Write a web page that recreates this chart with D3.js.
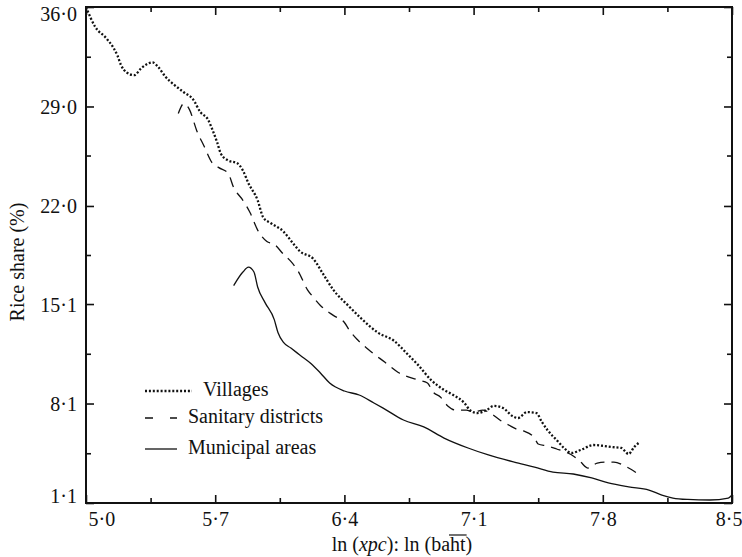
<!DOCTYPE html>
<html>
<head>
<meta charset="utf-8">
<script src="https://cdn.jsdelivr.net/npm/d3@7"></script>
<style>
  body { margin: 0; background: #fff; }
  svg { display: block; }
  text { font-family: "Liberation Serif", "Times New Roman", serif; fill: #111; }
</style>
</head>
<body>
<svg id="chart" width="742" height="557"></svg>
<script>
// Axis ticks
const xTicks = [5.0, 5.7, 6.4, 7.1, 7.8, 8.5];
const xMinor = [5.35, 6.05, 6.75, 7.45, 8.15];
const yTicks = [1.1, 8.1, 15.1, 22.0, 29.0, 36.0];
const yMinor = [4.6, 11.6, 18.55, 25.55, 32.5];

// Villages (dotted)
const villagesX = [5.00,5.05,5.11,5.15,5.17,5.19,5.22,5.26,5.30,5.36,5.39,5.43,5.48,5.53,5.58,5.62,5.66,5.69,5.71,5.73,5.77,5.82,5.85,5.88,5.93,5.96,6.00,6.07,6.12,6.16,6.23,6.29,6.34,6.42,6.49,6.58,6.67,6.74,6.80,6.87,6.94,6.99,7.05,7.08,7.12,7.17,7.21,7.26,7.31,7.34,7.39,7.44,7.47,7.50,7.55,7.59,7.63,7.68,7.75,7.81,7.85,7.90,7.94,7.97,8.00];
const villagesY = [36.0,34.6,33.8,33.1,32.6,31.9,31.4,31.2,31.7,32.1,31.8,31.1,30.5,30.0,29.5,28.6,28.1,27.2,26.5,25.7,25.2,25.0,24.5,23.6,22.4,21.2,20.8,20.2,19.4,18.8,18.3,17.1,16.1,15.0,14.1,13.1,12.5,11.6,10.8,9.75,9.05,8.7,8.14,7.64,7.43,7.64,7.93,7.78,7.22,7.08,7.5,7.43,6.8,6.24,5.53,4.97,4.62,4.83,5.18,5.11,5.04,4.97,4.55,5.04,5.39];

// Sanitary districts (dashed)
const sanitaryX = [5.50,5.53,5.56,5.60,5.64,5.68,5.72,5.77,5.80,5.85,5.89,5.93,5.98,6.02,6.07,6.11,6.15,6.20,6.23,6.27,6.34,6.40,6.43,6.47,6.53,6.62,6.69,6.80,6.85,6.88,6.92,6.96,7.00,7.06,7.10,7.15,7.19,7.25,7.29,7.33,7.37,7.43,7.45,7.50,7.55,7.61,7.64,7.68,7.72,7.77,7.82,7.86,7.91,7.95,8.00];
const sanitaryY = [28.5,29.2,28.8,27.3,26.2,25.1,24.7,24.3,23.3,22.4,21.5,20.3,19.5,19.3,18.6,18.1,17.4,16.1,15.6,15.0,14.3,13.8,13.2,12.6,11.9,11.0,10.3,9.75,9.54,8.91,8.56,7.93,7.64,7.64,7.5,7.64,7.43,6.87,6.59,6.31,6.17,5.67,5.25,5.11,4.9,4.62,4.41,3.98,3.56,3.91,3.98,3.98,3.77,3.49,3.07];

// Municipal areas (solid)
const municipalX = [5.80,5.85,5.88,5.91,5.93,5.97,6.02,6.04,6.07,6.11,6.16,6.22,6.27,6.32,6.40,6.48,6.56,6.61,6.72,6.83,6.94,7.07,7.18,7.32,7.43,7.53,7.64,7.74,7.83,7.94,8.05,8.12,8.18,8.26,8.38,8.48,8.50];
const municipalY = [16.4,17.35,17.7,17.35,16.3,15.2,14.0,13.1,12.4,12.0,11.5,10.9,10.25,9.54,8.98,8.7,8.14,7.78,6.94,6.45,5.67,4.97,4.48,3.98,3.63,3.28,3.14,2.86,2.51,2.23,2.01,1.66,1.45,1.35,1.31,1.45,1.66];

const legendLabels = ["Villages", "Sanitary districts", "Municipal areas"];

const svg = d3.select("#chart");
const margin = { left: 86, right: 10, top: 7, bottom: 54 };
const W = 742, H = 557;
const x0 = margin.left, x1 = W - margin.right, y0 = margin.top, y1 = H - margin.bottom;

const x = d3.scaleLinear().domain([5.0, 8.5]).range([x0, x1]);
const y = d3.scaleLinear().domain([1.1, 36.0]).range([y1, y0]);

const fmt = d => d.toFixed(1).replace(".", "\u00B7");
const FS = 20;

// Inward ticks on all four sides
function tickAxis(axisFn, scale, vals, size, tx, ty, labels) {
  const g = svg.append("g").attr("transform", `translate(${tx},${ty})`)
    .call(axisFn(scale).tickValues(vals).tickSize(-size)
      .tickFormat(labels ? fmt : "").tickPadding(labels ? 6 : 0));
  g.select(".domain").remove();
  g.selectAll(".tick line").attr("stroke", "#111").attr("stroke-width", 1.6);
  g.selectAll(".tick text").style("font-size", FS + "px").attr("fill", "#111");
  return g;
}
const gx = tickAxis(d3.axisBottom, x, xTicks, 8, 0, y1, true);
tickAxis(d3.axisBottom, x, xMinor, 5, 0, y1, false);
tickAxis(d3.axisTop, x, xTicks, 8, 0, y0, false);
tickAxis(d3.axisTop, x, xMinor, 5, 0, y0, false);
const gy = tickAxis(d3.axisLeft, y, yTicks, 8, x0, 0, true);
tickAxis(d3.axisLeft, y, yMinor, 5, x0, 0, false);
tickAxis(d3.axisRight, y, yTicks, 8, x1, 0, false);
tickAxis(d3.axisRight, y, yMinor, 5, x1, 0, false);

// Keep the end labels inside the frame
gx.selectAll(".tick text").attr("dy", "0.85em")
  .attr("text-anchor", d => d === xTicks[0] ? "start" : d === xTicks[xTicks.length - 1] ? "end" : "middle")
  .attr("x", d => d === xTicks[0] ? 2 : d === xTicks[xTicks.length - 1] ? 10 : 0);
gy.selectAll(".tick text")
  .attr("x", -9)
  .attr("dy", d => d === yTicks[yTicks.length - 1] ? "0.68em" : d === yTicks[0] ? "-0.05em" : "0.35em");

// Frame
svg.append("rect")
  .attr("x", x0).attr("y", y0).attr("width", x1 - x0).attr("height", y1 - y0)
  .attr("fill", "none").attr("stroke", "#111").attr("stroke-width", 2);

// Series
const series = [
  { name: legendLabels[0], xs: villagesX, ys: villagesY, dash: "2 1.9", width: 2.3 },
  { name: legendLabels[1], xs: sanitaryX, ys: sanitaryY, dash: "10 7", width: 1.3 },
  { name: legendLabels[2], xs: municipalX, ys: municipalY, dash: null, width: 1.3 }
];
const line = d3.line().x(d => x(d[0])).y(d => y(d[1])).curve(d3.curveMonotoneX);
series.forEach(s => {
  const pts = s.xs.map((v, i) => [v, s.ys[i]]);
  svg.append("path").datum(pts)
    .attr("d", line)
    .attr("fill", "none").attr("stroke", "#111")
    .attr("stroke-width", s.width)
    .attr("stroke-dasharray", s.dash);
});

// Legend
const legend = svg.append("g").attr("transform", "translate(145,0)");
const rowsY = [391, 418, 449];
const sampleLen = [47, 32, 32];
const textX = [58, 43, 43];
series.forEach((s, i) => {
  legend.append("line")
    .attr("x1", 0).attr("x2", sampleLen[i]).attr("y1", rowsY[i]).attr("y2", rowsY[i])
    .attr("stroke", "#111").attr("stroke-width", s.width)
    .attr("stroke-dasharray", i === 1 ? "8 17" : s.dash);
  legend.append("text")
    .attr("x", textX[i]).attr("y", rowsY[i] + 5)
    .style("font-size", FS + "px")
    .text(s.name);
});

// Axis titles
const titleY = 551;
const xt = svg.append("text")
  .attr("x", 402).attr("y", titleY)
  .attr("text-anchor", "middle")
  .style("font-size", FS + "px");
xt.append("tspan").text("ln (");
xt.append("tspan").style("font-style", "italic").text("xpc");
xt.append("tspan").text("): ln (baht)");
// macron over "ht"
const full = xt.node();
const ph = full.getStartPositionOfChar(16), pt = full.getEndPositionOfChar(17);
svg.append("line")
  .attr("x1", ph.x - 1).attr("x2", pt.x + 1)
  .attr("y1", titleY - 16).attr("y2", titleY - 16)
  .attr("stroke", "#111").attr("stroke-width", 1.2);

svg.append("text")
  .attr("transform", "translate(24,262) rotate(-90)")
  .attr("text-anchor", "middle")
  .style("font-size", FS + "px")
  .text("Rice share (%)");
</script>
</body>
</html>
